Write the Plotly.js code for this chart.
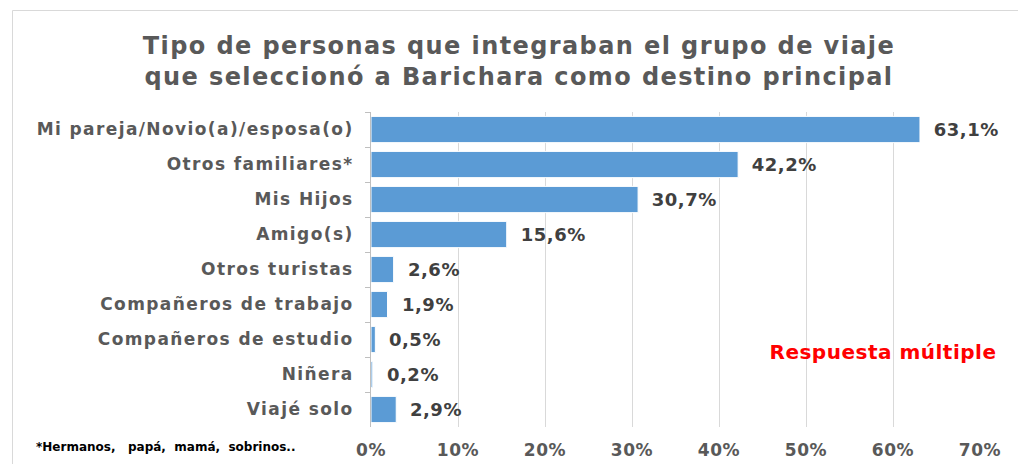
<!DOCTYPE html>
<html>
<head>
<meta charset="utf-8">
<script src="https://cdn.plot.ly/plotly-3.0.1.min.js"></script>
<style>
html,body{margin:0;padding:0;background:#fff;}
#chart{width:1018px;height:464px;}
#chart .gtitle{letter-spacing:1.4px;}
#chart .ytick text{letter-spacing:1.4px;}
#chart .xtick text{letter-spacing:0.6px;}
#chart .annotation-text{letter-spacing:0.5px;}
#chart .annotation[data-index="10"] .annotation-text{letter-spacing:0;}
</style>
</head>
<body>
<div id="chart"></div>
<script>
const categories = [
  "Mi pareja/Novio(a)/esposa(o)",
  "Otros familiares*",
  "Mis Hijos",
  "Amigo(s)",
  "Otros turistas",
  "Compañeros de trabajo",
  "Compañeros de estudio",
  "Niñera",
  "Viajé solo"
];
const values = [63.1, 42.2, 30.7, 15.6, 2.6, 1.9, 0.5, 0.2, 2.9];
const tickVals = [0, 10, 20, 30, 40, 50, 60, 70];
const tickLabels = ["0%", "10%", "20%", "30%", "40%", "50%", "60%", "70%"];

const FONT = "DejaVu Sans, Verdana, sans-serif";
const W = 1018, H = 464;
const M = {l: 371, r: 38, t: 112, b: 37};
const pw = W - M.l - M.r, ph = H - M.t - M.b;
const px2x = p => (p - M.l) / pw;
const py2y = p => 1 - (p - M.t) / ph;

const fmt = v => v.toFixed(1).replace('.', ',') + '%';

const trace = {
  type: 'bar',
  orientation: 'h',
  y: categories,
  x: values,
  marker: {color: '#5B9BD5', line: {color: '#ffffff', width: 1}},
  hoverinfo: 'none'
};

const annotations = values.map((v, i) => ({
  x: v, y: categories[i], xref: 'x', yref: 'y',
  text: fmt(v), showarrow: false, xanchor: 'left', yanchor: 'middle',
  xshift: 13,
  font: {family: FONT, size: 18, color: '#404040', weight: 'bold'}
}));
annotations.push({
  xref: 'paper', yref: 'paper', x: px2x(883), y: py2y(352),
  xanchor: 'center', yanchor: 'middle', showarrow: false,
  text: 'Respuesta múltiple',
  font: {family: FONT, size: 20, color: '#FF0000', weight: 'bold'}
});
annotations.push({
  xref: 'paper', yref: 'paper', x: px2x(34), y: py2y(447),
  xanchor: 'left', yanchor: 'middle', showarrow: false,
  text: '*Hermanos,\u00a0\u00a0 papá,\u00a0 mamá,\u00a0 sobrinos..',
  font: {family: FONT, size: 12, color: '#000000', weight: 'bold'}
});

const layout = {
  width: W, height: H,
  margin: M,
  paper_bgcolor: '#ffffff',
  plot_bgcolor: '#ffffff',
  showlegend: false,
  bargap: 0.25,
  title: {
    text: 'Tipo de personas que integraban el grupo de viaje<br>que seleccionó a Barichara como destino principal',
    font: {family: FONT, size: 24, color: '#595959', weight: 'bold'},
    x: 519 / W, xanchor: 'center', xref: 'container',
    y: 1 - 54 / H, yanchor: 'top', yref: 'container'
  },
  xaxis: {
    range: [0, 70],
    tickvals: tickVals, ticktext: tickLabels,
    showgrid: true, gridcolor: '#d9d9d9', gridwidth: 1,
    zeroline: false, showline: false, ticks: '',
    ticklabelstandoff: 11,
    tickfont: {family: FONT, size: 17, color: '#595959', weight: 'bold'},
    fixedrange: true
  },
  yaxis: {
    type: 'category',
    autorange: 'reversed',
    showline: true, linecolor: '#bfbfbf', linewidth: 1,
    ticks: 'outside', tickson: 'boundaries', ticklen: 5, tickcolor: '#bfbfbf',
    showgrid: false, zeroline: false,
    ticklabelstandoff: 13,
    tickfont: {family: FONT, size: 17, color: '#595959', weight: 'bold'},
    fixedrange: true
  },
  annotations: annotations,
  shapes: [{
    type: 'rect', xref: 'paper', yref: 'paper',
    x0: px2x(12.5), x1: px2x(1030), y0: py2y(480), y1: py2y(10.5),
    line: {color: '#d9d9d9', width: 1}, fillcolor: 'rgba(0,0,0,0)', layer: 'below'
  }]
};

Plotly.newPlot('chart', [trace], layout, {staticPlot: true, displayModeBar: false});
</script>
</body>
</html>
